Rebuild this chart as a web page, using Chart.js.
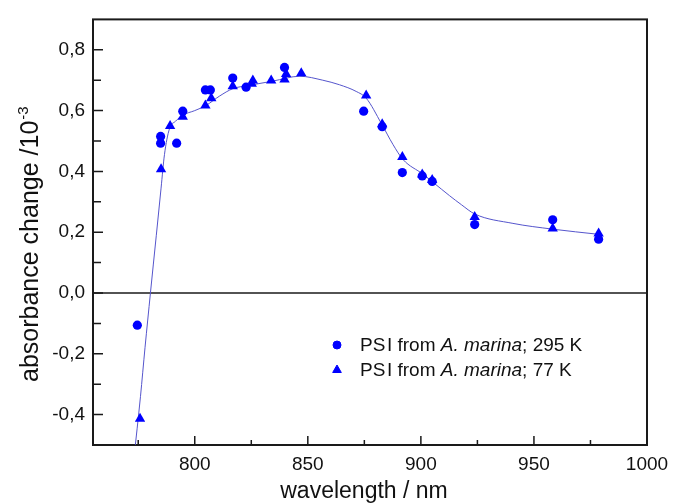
<!DOCTYPE html>
<html>
<head>
<meta charset="utf-8">
<script src="https://cdn.jsdelivr.net/npm/chart.js@4/dist/chart.umd.min.js"></script>
<style>
  body { margin: 0; background: #fff; }
  canvas { display: block; }
</style>
</head>
<body>
<canvas id="chart" width="683" height="503"></canvas>
<script>
// Messwerte: PSI aus A. marina bei 295 K (Kreise)
const wl295 = [774.6, 784.9, 784.9, 792.0, 794.7, 804.7, 806.9, 816.8, 822.7, 839.7, 874.7, 882.9, 891.8, 900.6, 905.0, 923.8, 958.3, 978.6]
const abs295 = [-0.106, 0.515, 0.493, 0.493, 0.598, 0.668, 0.668, 0.707, 0.677, 0.742, 0.598, 0.547, 0.396, 0.385, 0.367, 0.225, 0.241, 0.177]

// Messwerte bei 77 K (Dreiecke)
const wl77 = [775.8, 785.1, 789.1, 794.7, 804.7, 807.3, 816.8, 825.2, 825.7, 833.8, 839.7, 840.4, 847.1, 875.8, 882.9, 891.8, 900.6, 905.0, 923.8, 958.3, 978.6]
const abs77 = [-0.414, 0.407, 0.549, 0.580, 0.617, 0.641, 0.680, 0.688, 0.699, 0.699, 0.702, 0.720, 0.723, 0.650, 0.555, 0.447, 0.390, 0.372, 0.250, 0.212, 0.196]

// Fit-Kurve
const fitWl = [773, 776, 778, 780.4, 783, 785.1, 786.6, 788.8, 791.5, 794.7, 800, 805, 811, 816.8, 824, 834.5, 846.5, 856.6, 864, 871.4, 875.8, 882.5, 887.7, 892.1, 900.9, 905.4, 912.7, 918, 923.8, 940.7, 958.3, 978.6]
const fitAbs = [-0.55, -0.34, -0.18, 0, 0.19, 0.345, 0.455, 0.54, 0.565, 0.585, 0.60, 0.617, 0.648, 0.672, 0.683, 0.697, 0.713, 0.70, 0.685, 0.663, 0.641, 0.558, 0.488, 0.439, 0.391, 0.364, 0.32, 0.29, 0.26, 0.229, 0.21, 0.193]

// Achsen-Ticks
const xTicks = [800, 850, 900, 950, 1000]
const xMinor = [775, 825, 875, 925, 975]
const yTicks = [-0.4, -0.2, 0.0, 0.2, 0.4, 0.6, 0.8]
const yMinor = [-0.5, -0.3, -0.1, 0.1, 0.3, 0.5, 0.7]

const FONT = "'Liberation Sans', Arial, Helvetica, sans-serif"
const BLUE = '#0000ff'

const toPoints = (xs, ys) => xs.map((x, i) => ({ x: x, y: ys[i] }))

// Rahmen, Nulllinie und nach innen zeigende Ticks
const framePlugin = {
  id: 'frame',
  beforeDatasetsDraw(chart) {
    const { ctx, chartArea: a, scales } = chart
    const xs = scales.x, ys = scales.y
    ctx.save()
    ctx.strokeStyle = '#1a1a1a'

    ctx.lineWidth = 1.5
    const y0 = ys.getPixelForValue(0)
    ctx.beginPath()
    ctx.moveTo(a.left, y0)
    ctx.lineTo(a.right, y0)
    ctx.stroke()

    ctx.lineWidth = 1.5
    ctx.beginPath()
    xTicks.forEach(v => { const p = xs.getPixelForValue(v); ctx.moveTo(p, a.bottom); ctx.lineTo(p, a.bottom - 9) })
    xMinor.forEach(v => { const p = xs.getPixelForValue(v); ctx.moveTo(p, a.bottom); ctx.lineTo(p, a.bottom - 5) })
    yTicks.forEach(v => { const p = ys.getPixelForValue(v); ctx.moveTo(a.left, p); ctx.lineTo(a.left + 10, p) })
    yMinor.forEach(v => { const p = ys.getPixelForValue(v); ctx.moveTo(a.left, p); ctx.lineTo(a.left + 8, p) })
    ctx.stroke()

    ctx.lineWidth = 2
    ctx.strokeRect(a.left, a.top, a.right - a.left, a.bottom - a.top)
    ctx.restore()
  }
}

// Achsentitel (mit Hochstellung) und Legende mit kursivem Artnamen
const labelPlugin = {
  id: 'labels',
  afterDraw(chart) {
    const { ctx } = chart
    ctx.save()
    ctx.fillStyle = '#111'
    ctx.textBaseline = 'alphabetic'

    // x-Titel
    ctx.font = `23px ${FONT}`
    ctx.textAlign = 'center'
    ctx.fillText('wavelength / nm', 364, 498)

    // y-Titel
    ctx.translate(38, 382)
    ctx.rotate(-Math.PI / 2)
    ctx.textAlign = 'left'
    ctx.font = `25px ${FONT}`
    const main = 'absorbance change /10'
    ctx.fillText(main, 0, 0)
    const w = ctx.measureText(main).width
    ctx.font = `15px ${FONT}`
    ctx.fillText('-3', w + 1, -10)
    ctx.setTransform(1, 0, 0, 1, 0, 0)

    // Legende
    const rows = [
      { style: 'circle', r: 4, temp: '295 K', y: 351 },
      { style: 'triangle', r: 5, temp: '77 K', y: 376 }
    ]
    rows.forEach(row => {
      ctx.fillStyle = BLUE
      ctx.strokeStyle = BLUE
      ctx.lineWidth = 1
      Chart.helpers.drawPoint(ctx, { pointStyle: row.style, radius: row.r, rotation: 0, borderWidth: 1 }, 337, row.y - 6)
      ctx.fillStyle = '#111'
      let x = 360
      const parts = [
        ['PS\u200aI from ', 'normal'],
        ['A. marina', 'italic'],
        ['; ' + row.temp, 'normal']
      ]
      parts.forEach(([txt, st]) => {
        ctx.font = `${st} 19px ${FONT}`
        ctx.fillText(txt, x, row.y)
        x += ctx.measureText(txt).width
      })
    })
    ctx.restore()
  }
}

const ctx = document.getElementById('chart').getContext('2d')
new Chart(ctx, {
  type: 'scatter',
  data: {
    datasets: [
      {
        label: 'Fit',
        data: toPoints(fitWl, fitAbs),
        showLine: true,
        borderColor: '#5555cc',
        borderWidth: 1,
        pointRadius: 0,
        cubicInterpolationMode: 'monotone',
        order: 2
      },
      {
        label: 'PSI from A. marina; 295 K',
        data: toPoints(wl295, abs295),
        pointStyle: 'circle',
        pointRadius: 4.6,
        backgroundColor: BLUE,
        borderColor: BLUE,
        borderWidth: 0,
        order: 1
      },
      {
        label: 'PSI from A. marina; 77 K',
        data: toPoints(wl77, abs77),
        pointStyle: 'triangle',
        pointRadius: 6,
        backgroundColor: BLUE,
        borderColor: BLUE,
        borderWidth: 0,
        order: 0
      }
    ]
  },
  options: {
    responsive: false,
    animation: false,
    devicePixelRatio: 1,
    layout: { padding: { top: 13, right: 36, left: 0, bottom: 0 } },
    plugins: {
      legend: { display: false },
      tooltip: { enabled: false }
    },
    scales: {
      x: {
        type: 'linear',
        min: 755,
        max: 1000,
        grid: { display: false, drawTicks: false },
        border: { display: false },
        afterBuildTicks: s => { s.ticks = xTicks.map(v => ({ value: v })) },
        afterFit: s => { s.height = 58 },
        ticks: {
          color: '#111',
          padding: 8,
          maxRotation: 0,
          font: { family: FONT, size: 19 },
          callback: v => String(v)
        }
      },
      y: {
        min: -0.5,
        max: 0.9,
        grid: { display: false, drawTicks: false },
        border: { display: false },
        afterBuildTicks: s => { s.ticks = yTicks.map(v => ({ value: v })) },
        afterFit: s => { s.width = 93 },
        ticks: {
          color: '#111',
          padding: 8,
          font: { family: FONT, size: 19 },
          callback: v => Number(v).toFixed(1).replace('.', ',')
        }
      }
    }
  },
  plugins: [framePlugin, labelPlugin]
})
</script>
</body>
</html>
